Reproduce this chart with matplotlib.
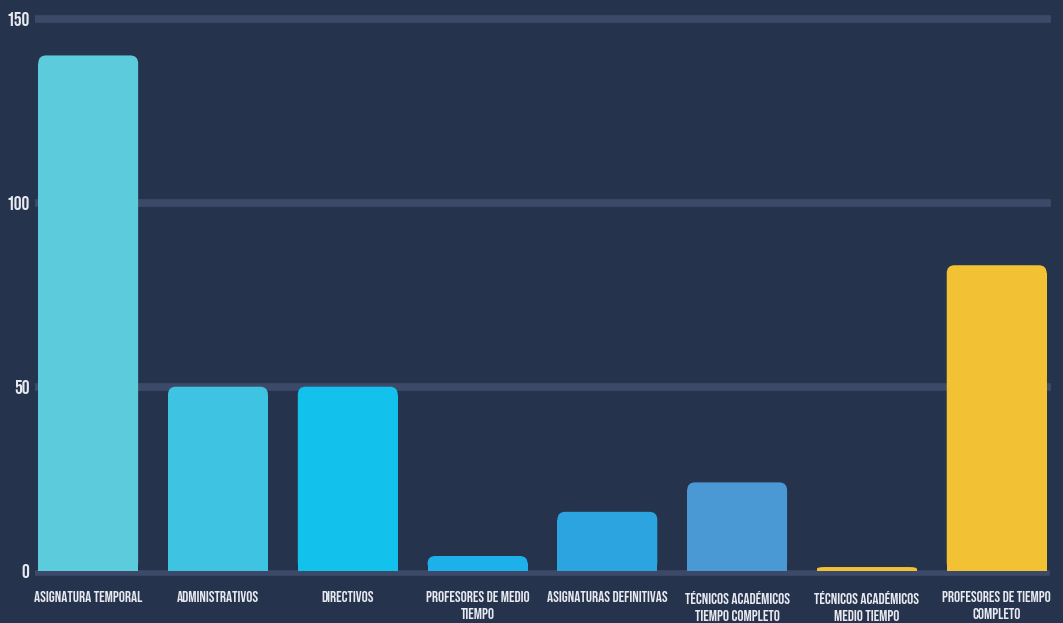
import matplotlib.pyplot as plt
from matplotlib.patches import FancyBboxPatch, Rectangle

# Chart data
categories = [
    "ASIGNATURA TEMPORAL",
    "ADMINISTRATIVOS",
    "DIRECTIVOS",
    "PROFESORES DE MEDIO\nTIEMPO",
    "ASIGNATURAS DEFINITIVAS",
    "TÉCNICOS ACADÉMICOS\nTIEMPO COMPLETO",
    "TÉCNICOS ACADÉMICOS\nMEDIO TIEMPO",
    "PROFESORES DE TIEMPO\nCOMPLETO",
]
values = [140, 50, 50, 4, 16, 24, 1, 83]
bar_colors = ["#5ccbdc", "#3ec4e2", "#12c1ec", "#1eb0ea", "#2ba4e0",
              "#4a98d4", "#f2c134", "#f2c134"]
y_ticks = [0, 50, 100, 150]

BG = "#26334d"
GRID = "#3c4968"
TEXT = "#e6e9f0"

plt.rcParams["font.family"] = ["Bebas Neue", "Oswald", "Barlow Condensed",
                               "DejaVu Sans"]

fig = plt.figure(figsize=(10.63, 6.23), dpi=100, facecolor=BG)
ax = fig.add_axes([0.0329, 0.0721, 0.967, 0.9098], facecolor=BG)

x = list(range(len(categories)))
bars = ax.bar(x, values, width=0.77, color=bar_colors, zorder=2)

# rounded tops: a rounded box plus a square-cornered lower part
radius_x = 0.06
radius_y = 2.2
for rect, color in zip(bars, bar_colors):
    rect.set_visible(False)
    bx, by = rect.get_x(), rect.get_y()
    w, h = rect.get_width(), rect.get_height()
    ry = min(radius_y, h / 2)
    ax.add_patch(FancyBboxPatch(
        (bx, by), w, h,
        boxstyle=f"round,pad=0,rounding_size={radius_x}",
        mutation_aspect=ry / radius_x,
        facecolor=color, edgecolor="none", zorder=2,
    ))
    ax.add_patch(Rectangle((bx, by), w, h - ry, facecolor=color,
                           edgecolor="none", zorder=2))

for t in y_ticks[1:]:
    ax.axhline(t, xmin=0, xmax=0.985, color=GRID, lw=5.5, zorder=1)
ax.axhline(-0.5, xmin=0, xmax=0.985, color=GRID, lw=4, zorder=1)

ax.set_xlim(-0.41, 7.51)
ax.set_ylim(-2, 152)
ax.set_yticks(y_ticks)
ax.set_yticklabels([str(t) for t in y_ticks], fontsize=14, color=TEXT)
ax.set_xticks(x)
ax.set_xticklabels(categories, fontsize=11, color=TEXT, linespacing=1.55)
ax.tick_params(axis="both", length=0)
ax.tick_params(axis="x", pad=9)
ax.tick_params(axis="y", pad=4)
for s in ax.spines.values():
    s.set_visible(False)

fig.savefig("out.png", dpi=100, facecolor=BG)
